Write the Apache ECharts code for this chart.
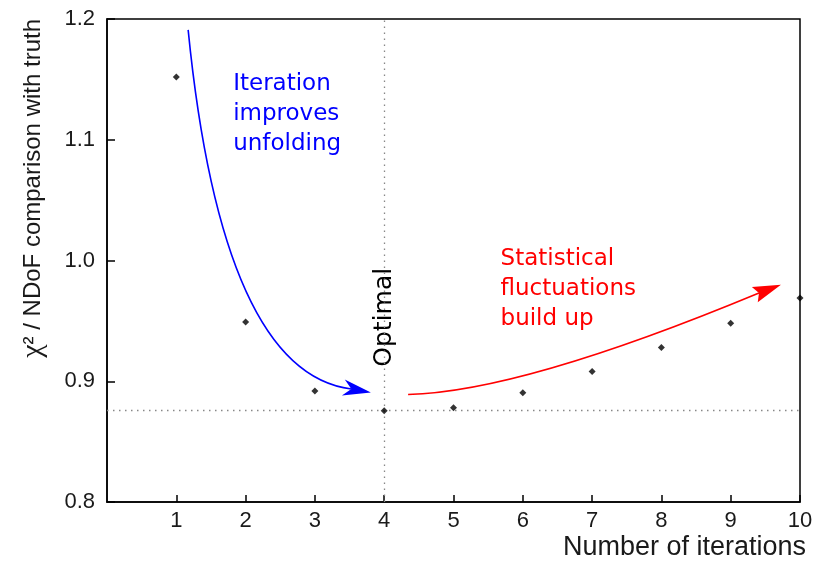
<!DOCTYPE html>
<html>
<head>
<meta charset="utf-8">
<script src="https://cdn.jsdelivr.net/npm/echarts@6/dist/echarts.min.js"></script>
<style>
html,body{margin:0;padding:0;background:#fff;}
#chart{width:818px;height:565px;}
</style>
</head>
<body>
<div id="chart"></div>
<script>
// ---- data ----
const iterations = [1, 2, 3, 4, 5, 6, 7, 8, 9, 10];
const chi2PerNdof = [1.152, 0.949, 0.892, 0.8756, 0.878, 0.8905, 0.908, 0.928, 0.948, 0.969];
const optimalIteration = 4;
const xRange = [0, 10];
const yRange = [0.8, 1.2];
const xTitle = 'Number of iterations';
const yTitleRest = '² / NDoF comparison with truth';

// annotation arrows in data coordinates: start, control, curve end, tip
const improveArrow = [1.171, 1.191, 1.662, 0.907, 3.526, 0.8936, 3.808, 0.8907];
const fluctuateArrow = [4.345, 0.889, 5.968, 0.891, 9.408, 0.973, 9.725, 0.980];
// annotation texts (data coordinates)
const noteTexts = ['Iteration\nimproves\nunfolding', 'Statistical\nfluctuations\nbuild up', 'Optimal'];
const noteX = [1.821, 5.679, 4.003];
const noteY = [1.121, 0.976, 0.953];

const chart = echarts.init(document.getElementById('chart'), null, {renderer: 'canvas'});

const pts = iterations.map((x, i) => [x, chi2PerNdof[i]]);
const optY = chi2PerNdof[iterations.indexOf(optimalIteration)];

function renderArrow(params, api) {
  const p0 = api.coord([api.value(0), api.value(1)]);
  const c = api.coord([api.value(2), api.value(3)]);
  const p1 = api.coord([api.value(4), api.value(5)]);
  const tip = api.coord([api.value(6), api.value(7)]);
  const color = params.dataIndex === 0 ? '#0000ff' : '#ff0000';
  let dx = tip[0] - p1[0], dy = tip[1] - p1[1];
  const len = Math.sqrt(dx * dx + dy * dy) || 1;
  dx /= len; dy /= len;
  const L = 28, W = 8.2;
  const bx = tip[0] - dx * L, by = tip[1] - dy * L;
  const nx = -dy, ny = dx;
  return {
    type: 'group',
    children: [
      {type: 'bezierCurve', shape: {x1: p0[0], y1: p0[1], x2: p1[0], y2: p1[1], cpx1: c[0], cpy1: c[1]},
       style: {stroke: color, fill: null, lineWidth: 1.6}},
      {type: 'polygon', shape: {points: [tip, [bx + nx * W, by + ny * W], p1, [bx - nx * W, by - ny * W]]},
       style: {fill: color, stroke: null}}
    ]
  };
}

function renderNote(params, api) {
  const i = params.dataIndex;
  const p = api.coord([api.value(0), api.value(1)]);
  const colors = ['#0000ff', '#ff0000', '#000000'];
  const isOpt = i === 2;
  return {
    type: 'text',
    x: p[0], y: p[1],
    rotation: isOpt ? Math.PI / 2 : 0,
    style: {
      text: noteTexts[i],
      fill: colors[i],
      fontFamily: 'DejaVu Sans',
      fontSize: isOpt ? 25 : 23,
      lineHeight: 30,
      align: isOpt ? 'center' : 'left',
      verticalAlign: 'middle'
    }
  };
}

const option = {
  animation: false,
  backgroundColor: '#ffffff',
  grid: {left: 107, right: 18, top: 19, bottom: 63, show: true, borderColor: '#000', borderWidth: 1.5, backgroundColor: 'transparent'},
  xAxis: {
    type: 'value', min: xRange[0], max: xRange[1], interval: 1,
    axisLine: {show: true, onZero: false, lineStyle: {color: '#000', width: 1.5}},
    axisTick: {show: true, inside: true, length: 7, lineStyle: {color: '#000', width: 1.5}},
    splitLine: {show: false},
    axisLabel: {show: true, showMinLabel: false, margin: 8, color: '#1a1a1a', fontSize: 22, fontFamily: 'Liberation Sans',
      formatter: v => (v === 0 ? '' : String(v))}
  },
  yAxis: {
    type: 'value', min: yRange[0], max: yRange[1], interval: 0.1,
    axisLine: {show: true, onZero: false, lineStyle: {color: '#000', width: 1.5}},
    axisTick: {show: true, inside: true, length: 8, lineStyle: {color: '#000', width: 1.5}},
    splitLine: {show: false},
    axisLabel: {margin: 12, color: '#1a1a1a', fontSize: 22, fontFamily: 'Liberation Sans',
      formatter: v => v.toFixed(1)}
  },
  graphic: [
    {type: 'text', x: 33, y: 19, rotation: Math.PI / 2,
     style: {text: '{chi|χ}{t|' + yTitleRest + '}', align: 'right', verticalAlign: 'middle',
       rich: {chi: {fontFamily: 'Liberation Serif', fontSize: 30, fill: '#1a1a1a'},
              t: {fontFamily: 'Liberation Sans', fontSize: 24, fill: '#1a1a1a'}}}},
    {type: 'text', x: 806, y: 548,
     style: {text: xTitle, align: 'right', verticalAlign: 'middle', fontFamily: 'Liberation Sans', fontSize: 27, fill: '#1a1a1a'}}
  ],
  series: [
    {
      type: 'scatter', name: 'chi2', data: pts, symbol: 'diamond', symbolSize: 7,
      itemStyle: {color: '#000'}, z: 5,
      markLine: {
        silent: true, symbol: ['none', 'none'], label: {show: false}, precision: 4,
        lineStyle: {color: '#888', type: [1.5, 4.5], width: 1.3},
        data: [{yAxis: optY}, {xAxis: optimalIteration}]
      }
    },
    {type: 'custom', name: 'arrows', renderItem: renderArrow, silent: true, z: 4,
     data: [improveArrow, fluctuateArrow]},
    {type: 'custom', name: 'notes', renderItem: renderNote, silent: true, z: 4,
     data: noteX.map((x, i) => [x, noteY[i]])}
  ]
};
chart.setOption(option);
</script>
</body>
</html>
